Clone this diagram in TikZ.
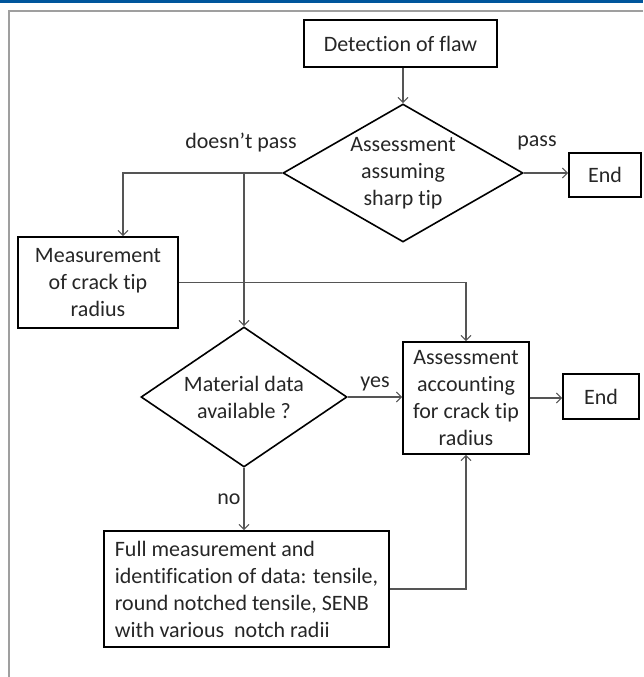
\documentclass[tikz,border=0pt]{standalone}
\usepackage{fontspec}
\setmainfont{Carlito}[Ligatures=NoCommon]
\usetikzlibrary{shapes.geometric,arrows.meta}
\definecolor{frameblue}{RGB}{0,86,156}
\definecolor{linegray}{RGB}{85,85,85}
\begin{document}
\begin{tikzpicture}[x=1pt,y=-1pt,
  every node/.style={font=\fontsize{22}{27}\selectfont,text=black!85},
  box/.style={draw=black,line width=1.6pt,rectangle,inner sep=2pt,align=center},
  choice/.style={draw=black,line width=1.6pt,diamond,inner sep=0pt,aspect=1.7,align=center},
  flow/.style={draw=linegray,line width=1.1pt,-{Straight Barb[length=5pt,width=10pt]}},
  lbl/.style={inner sep=1pt}]
\useasboundingbox (0,0) rectangle (643,677);
% frame of the figure
\draw[frameblue,line width=3pt] (0,1.5) -- (643,1.5);
\draw[gray!75,line width=1.4pt] (643,11) -- (9,11) -- (9,677);
% nodes
\node[box,minimum width=193pt,minimum height=47pt] (detect) at (400.5,43.5) {Detection of flaw};
\node[choice,minimum width=240pt,minimum height=138pt] (sharp) at (403,173) {Assessment\\assuming\\sharp tip};
\node[box,minimum width=72pt,minimum height=44pt] (end1) at (605,175) {End};
\node[box,minimum width=160pt,minimum height=91pt] (measure) at (98,282.5) {Measurement\\of crack tip\\radius};
\node[choice,minimum width=206pt,minimum height=140pt] (avail) at (244,397) {Material data\\available ?};
\node[box,minimum width=126pt,minimum height=112pt] (assess) at (466,398) {Assessment\\accounting\\for crack tip\\radius};
\node[box,minimum width=76pt,minimum height=45pt] (end2) at (601,396.5) {End};
\node[box,align=left,minimum width=285pt,minimum height=116pt] (full) at (246.5,589)
  {Full measurement and\\identification of data: tensile,\\round notched tensile, SENB\\with various\ \ notch radii};
% connectors
\draw[flow] (detect.south -| sharp.north) -- (sharp.north);
\draw[flow] (sharp.east) -- (sharp.east -| end1.west);
\node[lbl] (passlbl) at (537,143) {pass};
\draw[flow] (sharp.west) -| ([xshift=25pt]measure.north);
\draw[flow] (sharp.west -| avail.north) -- (avail.north);
\node[lbl] (faillbl) at (241,143) {doesn’t pass};
\draw[flow] (measure.east) -| (assess.north);
\draw[flow] (avail.east) -- (avail.east -| assess.west) node[lbl,midway,above=4pt] {yes};
\draw[flow] (assess.east) -- (assess.east -| end2.west);
\draw[flow] (avail.south) -- (avail.south |- full.north) node[lbl,midway,left=2pt] {no};
\draw[flow] (full.east) -| (assess.south);
\end{tikzpicture}
\end{document}
